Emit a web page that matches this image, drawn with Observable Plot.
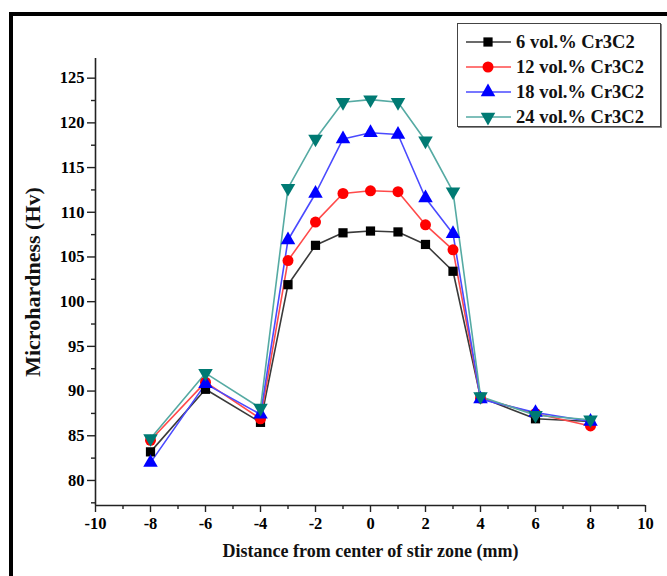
<!DOCTYPE html>
<html>
<head>
<meta charset="utf-8">
<script src="https://cdn.jsdelivr.net/npm/d3@7"></script>
<script src="https://cdn.jsdelivr.net/npm/@observablehq/plot@0.6"></script>
<style>
  html, body { margin: 0; padding: 0; background: #fff; }
  #wrap { position: relative; width: 667px; height: 576px; overflow: hidden; }
  #frame { position: absolute; left: 9px; top: 12px; width: 700px; height: 600px;
           border-left: 4px solid #000; border-top: 4px solid #000; pointer-events: none; }
  #legend { position: absolute; left: 457px; top: 23px; width: 202px; height: 102px;
            border: 1px solid #444; box-shadow: 1px 1px 0 #888; background: #fff; }
  #legend svg { display: block; overflow: visible; }
</style>
</head>
<body>
<div id="wrap">
  <div id="chart"></div>
  <div id="frame"></div>
  <div id="legend"></div>
</div>
<script>
// ---- data ----
const distance = [-8, -6, -4, -3, -2, -1, 0, 1, 2, 3, 4, 6, 8];
const seriesNames = ["6 vol.% Cr3C2", "12 vol.% Cr3C2", "18 vol.% Cr3C2", "24 vol.% Cr3C2"];
const hv6  = [83.2, 90.2, 86.5, 101.9, 106.3, 107.7, 107.9, 107.8, 106.4, 103.4, 89.3, 86.9, 86.6];
const hv12 = [84.5, 91.0, 86.9, 104.6, 108.9, 112.1, 112.4, 112.3, 108.6, 105.8, 89.2, 87.5, 86.1];
const hv18 = [82.0, 90.8, 87.4, 106.9, 112.1, 118.2, 118.9, 118.7, 111.6, 107.6, 89.1, 87.6, 86.6];
const hv24 = [84.7, 92.0, 88.1, 112.7, 118.2, 122.3, 122.6, 122.3, 118.0, 112.3, 89.4, 87.3, 86.8];
const xTicks = [-10, -8, -6, -4, -2, 0, 2, 4, 6, 8, 10];
const xMinor = [-9, -7, -5, -3, -1, 1, 3, 5, 7, 9];
const yTicks = [80, 85, 90, 95, 100, 105, 110, 115, 120, 125];
const yMinor = [77.5, 82.5, 87.5, 92.5, 97.5, 102.5, 107.5, 112.5, 117.5, 122.5];
const xLabel = "Distance from center of stir zone (mm)";
const yLabel = "Microhardness (Hv)";

// ---- styling ----
const markerColors = ["#000000", "#ff0000", "#0000ff", "#007a73"];
const lineColors = ["#3a3a3a", "#ff4a4a", "#4a4aff", "#55aaa3"];
const symbols = ["square", "circle", "triangle", "triangle"];
const rotations = [0, 0, 0, 180];
const sizes = [5.2, 5.5, 5.4, 5.4];
const font = "'Liberation Serif', 'Times New Roman', serif";

const allSeries = [hv6, hv12, hv18, hv24];
const rows = [];
allSeries.forEach((vals, i) => {
  vals.forEach((v, j) => rows.push({x: distance[j], y: v, s: seriesNames[i], i}));
});

const xDomain = [-10, 10];
const yDomain = [77.2, 127.2];

const marks = [
  Plot.ruleX([-10], {stroke: "#222", strokeWidth: 1.6}),
  Plot.ruleY([yDomain[0]], {stroke: "#222", strokeWidth: 1.6}),
  Plot.axisY({ticks: yTicks, tickSize: 8, tickPadding: 3, tickFormat: d => String(d),
              label: null, fontSize: 16.5, fontWeight: "bold", fontFamily: font, stroke: "#222", strokeWidth: 1.4}),
  Plot.axisY({ticks: yMinor, tickSize: 4, text: null, label: null, stroke: "#222", strokeWidth: 1.4}),
  Plot.axisX({ticks: xTicks, tickSize: 7, tickPadding: 5, tickFormat: d => String(d),
              label: null, fontSize: 16.5, fontWeight: "bold", fontFamily: font, stroke: "#222", strokeWidth: 1.4}),
  Plot.axisX({ticks: xMinor, tickSize: 4, text: null, label: null, stroke: "#222", strokeWidth: 1.4}),
  Plot.text([xLabel], {frameAnchor: "bottom", dy: 51, textAnchor: "middle", fontSize: 18, fontWeight: "bold", fontFamily: font, fill: "#111"}),
  Plot.text([yLabel], {frameAnchor: "left", dx: -63, rotate: -90, textAnchor: "middle", fontSize: 22, fontWeight: "bold", fontFamily: font, fill: "#111"})
];

seriesNames.forEach((name, i) => {
  const data = rows.filter(d => d.i === i);
  marks.push(Plot.line(data, {x: "x", y: "y", stroke: lineColors[i], strokeWidth: 1.6}));
});
seriesNames.forEach((name, i) => {
  const data = rows.filter(d => d.i === i);
  marks.push(Plot.dot(data, {x: "x", y: "y", symbol: symbols[i], r: sizes[i], rotate: rotations[i],
                             fill: markerColors[i], stroke: "none"}));
});

const chart = Plot.plot({
  width: 667,
  height: 576,
  marginLeft: 95,
  marginRight: 22,
  marginTop: 58,
  marginBottom: 71,
  x: {domain: xDomain},
  y: {domain: yDomain},
  style: {fontFamily: font, background: "#fff"},
  marks
});
document.getElementById("chart").appendChild(chart);

// ---- legend ----
const lg = d3.select("#legend").append("svg").attr("width", 202).attr("height", 102);
seriesNames.forEach((name, i) => {
  const cy = 18 + i * 25;
  lg.append("line").attr("x1", 8).attr("x2", 53).attr("y1", cy).attr("y2", cy)
    .attr("stroke", lineColors[i]).attr("stroke-width", 1.6);
  const symType = [d3.symbolSquare, d3.symbolCircle, d3.symbolTriangle, d3.symbolTriangle][i];
  const area = Math.PI * sizes[i] * sizes[i];
  lg.append("path").attr("d", d3.symbol(symType, area)())
    .attr("transform", `translate(30,${cy}) rotate(${rotations[i]})`)
    .attr("fill", markerColors[i]);
  lg.append("text").attr("x", 58).attr("y", cy).attr("dy", "0.35em")
    .attr("font-family", font).attr("font-weight", "bold").attr("font-size", 18.5)
    .attr("fill", "#111").text(name);
});
</script>
</body>
</html>
